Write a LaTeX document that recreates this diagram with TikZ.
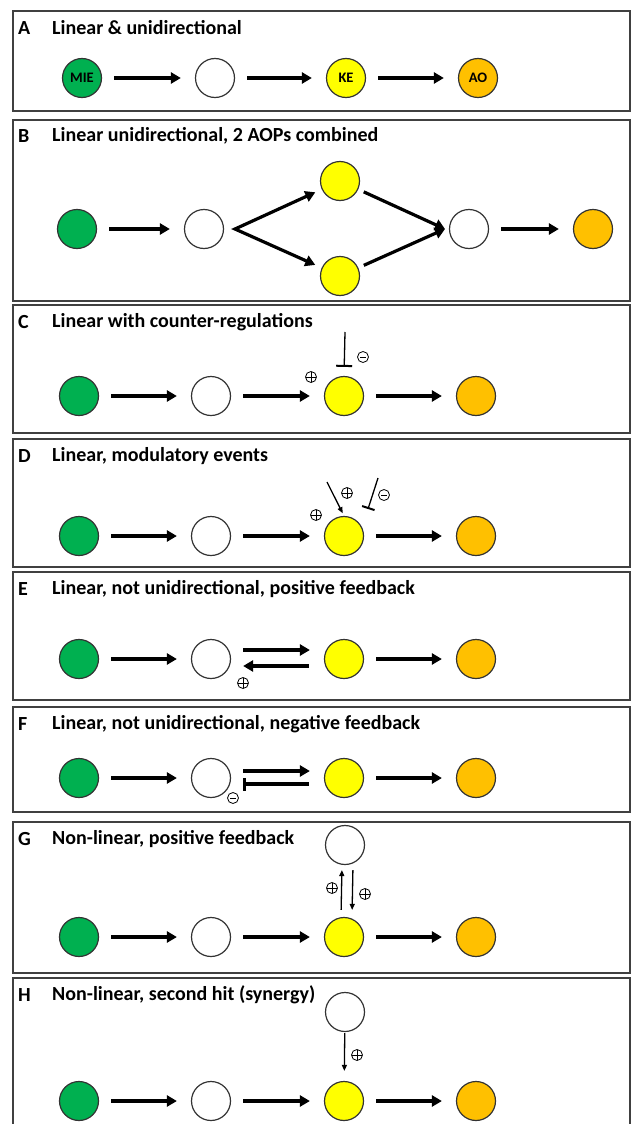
\documentclass[tikz,border=0pt]{standalone}
\usepackage{fontspec}
\setmainfont{Carlito}
\usetikzlibrary{arrows.meta,positioning}

\definecolor{miegreen}{HTML}{00B050}
\definecolor{keyellow}{HTML}{FFFF00}
\definecolor{aoorange}{HTML}{FFC000}

\tikzset{
  evt/.style={circle, draw=black!80, line width=1.2pt, minimum size=39pt, inner sep=0pt,
    font=\bfseries\fontsize{14.5}{14.5}\selectfont},
  mie/.style={evt, fill=miegreen},
  ke/.style={evt, fill=keyellow},
  ao/.style={evt, fill=aoorange},
  wht/.style={evt, fill=white},
  actarr/.style={line width=3.2pt, -{Triangle[length=10pt,width=11pt]}, shorten <=12pt, shorten >=14pt},
  forkarr/.style={line width=3.2pt, {Triangle[length=10pt,width=11pt]}-{Triangle[length=10pt,width=11pt]},
    shorten <=7pt, shorten >=7pt},
  modarr/.style={line width=1.3pt, -{Triangle[length=6pt,width=5pt]}},
  inharr/.style={line width=1.3pt, -{Bar[width=16pt,line width=2pt]}},
  fbinh/.style={line width=3.2pt, -{Bar[width=13pt,line width=3pt]}},
  panel/.style={draw=black!75, line width=1.8pt},
  ttl/.style={anchor=west, inner sep=0pt, font=\bfseries\fontsize{20}{20}\selectfont},
  sgnp/.style={circle, draw, line width=0.8pt, minimum size=11pt, inner sep=0pt,
    path picture={\draw[line width=0.8pt] (path picture bounding box.north) -- (path picture bounding box.south)
      (path picture bounding box.west) -- (path picture bounding box.east);}},
  sgnm/.style={circle, draw, line width=0.8pt, minimum size=11pt, inner sep=0pt,
    path picture={\draw[line width=0.8pt] ([xshift=-3pt]path picture bounding box.center)
      -- ([xshift=3pt]path picture bounding box.center);}},
}

\begin{document}
\begin{tikzpicture}[x=1pt, y=-1pt]
  \useasboundingbox (0,0) rectangle (631,1124);

  % frames
  \draw[panel] (13,11) rectangle (630,111);
  \draw[panel] (13,120) rectangle (630,301);
  \draw[panel] (13,305) rectangle (630,433);
  \draw[panel] (13,439) rectangle (630,567);
  \draw[panel] (13,572) rectangle (630,700);
  \draw[panel] (13,707) rectangle (630,812);
  \draw[panel] (13,822) rectangle (630,973);
  \draw[panel] (13,978) rectangle (630,1140);

  % A
  \node[ttl] (Al) at (18,28) {A};
  \node[ttl] (At) at (52,28) {Linear \& unidirectional};
  \node[mie] (Am) at (82,78) {MIE};
  \node[wht] (Aw) at (215,78) {};
  \node[ke] (Ak) at (346,78) {KE};
  \node[ao] (Ao) at (478,78) {AO};
  \draw[actarr] (Am) -- (Aw);
  \draw[actarr] (Aw) -- (Ak);
  \draw[actarr] (Ak) -- (Ao);

  % B
  \node[ttl] (Bl) at (18,136) {B};
  \node[ttl] (Bt) at (52,136) {Linear unidirectional, 2 AOPs combined};
  \node[mie] (Bm) at (77,229) {};
  \node[wht] (Bw) at (204,229) {};
  \node[ke] (Bk1) at (340,181) {};
  \node[ke] (Bk2) at (340,276) {};
  \node[wht] (Bv) at (469,229) {};
  \node[ao] (Bo) at (593,229) {};
  \coordinate (Bsplit) at (235,229);
  \coordinate (Bjoin) at (445,229);
  \draw[actarr] (Bm) -- (Bw);
  \draw[forkarr] (Bk1) -- (Bsplit) -- (Bk2);
  \draw[actarr, shorten <=6pt, shorten >=0pt] (Bk1) -- (Bjoin);
  \draw[actarr, shorten <=6pt, shorten >=0pt] (Bk2) -- (Bjoin);
  \draw[actarr] (Bv) -- (Bo);

  % C
  \node[ttl] (Cl) at (18,322) {C};
  \node[ttl] (Ct) at (52,322) {Linear with counter-regulations};
  \node[mie] (Cm) at (79,396) {};
  \node[wht] (Cw) at (211,396) {};
  \node[ke] (Ck) at (344,396) {};
  \node[ao] (Co) at (476,396) {};
  \draw[actarr] (Cm) -- (Cw);
  \draw[actarr] (Cw) -- (Ck);
  \draw[actarr] (Ck) -- (Co);
  \coordinate (Cneg) at (345,332);
  \draw[inharr, shorten >=9pt] (Cneg) -- (Ck.north);
  \node[sgnp] (Cp) at (311,377) {};
  \node[sgnm] (Cn) at (363,357) {};

  % D
  \node[ttl] (Dl) at (18,456) {D};
  \node[ttl] (Dt) at (52,456) {Linear, modulatory events};
  \node[mie] (Dm) at (79,536) {};
  \node[wht] (Dw) at (211,536) {};
  \node[ke] (Dk) at (344,536) {};
  \node[ao] (Do) at (476,536) {};
  \draw[actarr] (Dm) -- (Dw);
  \draw[actarr] (Dw) -- (Dk);
  \draw[actarr] (Dk) -- (Do);
  \coordinate (Dpos) at (327,482);
  \coordinate (Dneg) at (378,478);
  \coordinate (Dnegend) at (368,509);
  \draw[modarr, shorten >=3pt] (Dpos) -- (Dk.north);
  \draw[inharr, -{Bar[width=13pt,line width=2pt]}] (Dneg) -- (Dnegend);
  \node[sgnp] (Dp1) at (316,515) {};
  \node[sgnp] (Dp2) at (347,493) {};
  \node[sgnm] (Dn) at (384,495) {};

  % E
  \node[ttl] (El) at (18,589) {E};
  \node[ttl] (Et) at (52,589) {Linear, not unidirectional, positive feedback};
  \node[mie] (Em) at (79,659) {};
  \node[wht] (Ew) at (211,659) {};
  \node[ke] (Ek) at (344,659) {};
  \node[ao] (Eo) at (476,659) {};
  \draw[actarr] (Em) -- (Ew);
  \draw[actarr] ([yshift=9pt]Ew.east) -- ([yshift=9pt]Ek.west);
  \draw[actarr, shorten <=15pt, shorten >=12pt] ([yshift=-7pt]Ek.west) -- ([yshift=-7pt]Ew.east);
  \draw[actarr] (Ek) -- (Eo);
  \node[sgnp] (Ep) at (243,683) {};

  % F
  \node[ttl] (Fl) at (18,724) {F};
  \node[ttl] (Ft) at (52,724) {Linear, not unidirectional, negative feedback};
  \node[mie] (Fm) at (79,778) {};
  \node[wht] (Fw) at (211,778) {};
  \node[ke] (Fk) at (344,778) {};
  \node[ao] (Fo) at (476,778) {};
  \draw[actarr] (Fm) -- (Fw);
  \draw[actarr] ([yshift=7pt]Fw.east) -- ([yshift=7pt]Fk.west);
  \draw[fbinh, shorten <=15pt, shorten >=12pt] ([yshift=-6pt]Fk.west) -- ([yshift=-6pt]Fw.east);
  \draw[actarr] (Fk) -- (Fo);
  \node[sgnm] (Fn) at (233,798) {};

  % G
  \node[ttl] (Gl) at (18,839) {G};
  \node[ttl] (Gt) at (52,839) {Non-linear, positive feedback};
  \node[mie] (Gm) at (79,937) {};
  \node[wht] (Gw) at (211,937) {};
  \node[ke] (Gk) at (344,937) {};
  \node[ao] (Go) at (476,937) {};
  \node[wht] (Gu) at (345,845) {};
  \draw[actarr] (Gm) -- (Gw);
  \draw[actarr] (Gw) -- (Gk);
  \draw[actarr] (Gk) -- (Go);
  \draw[modarr, shorten <=7pt, shorten >=5pt] ([xshift=-3pt]Gk.north) -- ([xshift=-3pt]Gu.south);
  \draw[modarr, shorten <=5pt, shorten >=7pt] ([xshift=8pt]Gu.south) -- ([xshift=8pt]Gk.north);
  \node[sgnp] (Gp1) at (332,888) {};
  \node[sgnp] (Gp2) at (365,894) {};

  % H
  \node[ttl] (Hl) at (18,995) {H};
  \node[ttl] (Ht) at (52,995) {Non-linear, second hit (synergy)};
  \node[mie] (Hm) at (79,1101) {};
  \node[wht] (Hw) at (211,1101) {};
  \node[ke] (Hk) at (344,1101) {};
  \node[ao] (Ho) at (476,1101) {};
  \node[wht] (Hu) at (345,1012) {};
  \draw[actarr] (Hm) -- (Hw);
  \draw[actarr] (Hw) -- (Hk);
  \draw[actarr] (Hk) -- (Ho);
  \draw[modarr, shorten <=1pt, shorten >=10pt] (Hu) -- (Hk);
  \node[sgnp] (Hp) at (357,1055) {};

\end{tikzpicture}
\end{document}
